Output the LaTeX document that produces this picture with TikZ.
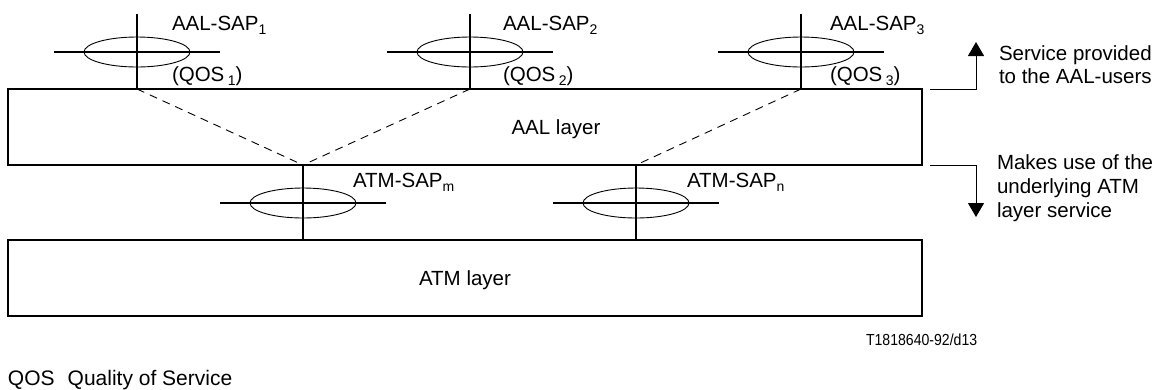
\documentclass[tikz,border=0pt]{standalone}
\usepackage{fontspec}
\setmainfont{Liberation Sans}
\usepackage{graphicx}
\usetikzlibrary{arrows.meta}
\newcommand{\mysub}[1]{\raisebox{-4pt}{\fontsize{14}{14}\selectfont #1}}
\begin{document}
\begin{tikzpicture}[x=1pt,y=-1pt,
  every node/.style={inner sep=0pt, outer sep=0pt, font=\fontsize{20.5}{24}\selectfont},
  layerbox/.style={draw, line width=1.2pt, minimum width=914pt, minimum height=76pt},
  sapline/.style={line width=2pt},
  sapring/.style={line width=0.9pt},
  dashlink/.style={line width=0.9pt, dash pattern=on 8pt off 6pt},
  flow/.style={line width=1pt, -{Triangle[length=14pt,width=16pt]}},
  sap/.pic={
    \draw[sapline] (-83,0) -- (83,0);
    \draw[sapline] (0,-38) -- (0,37);
    \draw[sapring] (0,0) ellipse [x radius=53, y radius=15];
  }
]
\useasboundingbox (0,0) rectangle (1162,389);

% layers
\node[layerbox] (aal) at (465,127) {};
\node[layerbox] (atm) at (465,278) {};
\node[anchor=base] (aaltxt) at (556,134) {AAL layer};
\node[anchor=base] (atmtxt) at (465,285) {ATM layer};

% service access points
\pic at (137,52) {sap};
\pic at (470,52) {sap};
\pic at (801,52) {sap};
\pic at (303,203) {sap};
\pic at (636,203) {sap};

\coordinate (a1) at (137,89);
\coordinate (a2) at (470,89);
\coordinate (a3) at (801,89);
\coordinate (am) at (303,165);
\coordinate (an) at (636,165);

\draw[dashlink] (a1) -- (am);
\draw[dashlink] (a2) -- (am);
\draw[dashlink] (a3) -- (an);

% labels
\node[anchor=base west] (l1) at (172,30) {AAL-SAP\mysub{1}};
\node[anchor=base west] (l2) at (503,30) {AAL-SAP\mysub{2}};
\node[anchor=base west] (l3) at (830,30) {AAL-SAP\mysub{3}};
\node[anchor=base west] (q1) at (172,81) {(QOS\,\mysub{1})};
\node[anchor=base west] (q2) at (503,81) {(QOS\,\mysub{2})};
\node[anchor=base west] (q3) at (830,81) {(QOS\,\mysub{3})};
\node[anchor=base west] (lm) at (353,187) {ATM-SAP\mysub{m}};
\node[anchor=base west] (ln) at (687,187) {ATM-SAP\mysub{n}};

% side arrows
\coordinate (upstart) at (930,89);
\coordinate (uptip) at (976,42);
\coordinate (dnstart) at (930,165);
\coordinate (dntip) at (976,217);
\draw[flow] (upstart) -| (uptip);
\draw[flow] (dnstart) -| (dntip);

\node[anchor=base west, align=left, font=\fontsize{20.5}{23}\selectfont] (svc) at (999,83) {Service provided\\to the AAL-users};
\node[anchor=base west, align=left, font=\fontsize{20.5}{24}\selectfont] (use) at (997,217) {Makes use of the\\underlying ATM\\layer service};

% footer
\node[anchor=base west, font=\fontsize{16}{19}\selectfont] (ref) at (866,345) {\scalebox{0.88}[1]{T1818640-92/d13}};
\node[anchor=base west, font=\fontsize{21}{24}\selectfont] (qos) at (8,385) {QOS\hspace{13pt}Quality of Service};
\end{tikzpicture}
\end{document}
